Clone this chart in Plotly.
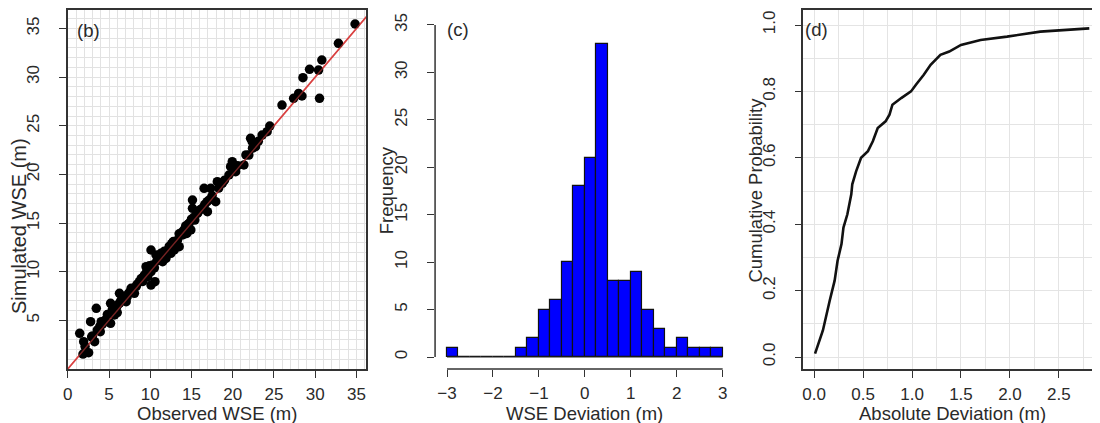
import plotly.graph_objects as go

# ---------------- Panel (b): observed vs simulated WSE ----------------
observed_wse = [1.45, 1.93, 1.85, 2.53, 2.77, 3.46, 3.26, 3.58, 4.06, 3.94,
                5.19, 5.19, 5.67, 6.07, 6.27, 6.47, 7.08, 7.36, 7.68, 8.28,
                8.08, 8.69, 9.29, 9.49, 9.69, 10.09, 10.09, 10.57, 10.09, 10.70,
                10.90, 11.30, 11.50, 11.90, 12.50, 12.71, 12.91, 13.31, 13.51, 13.71,
                14.11, 14.43, 14.72, 14.92, 15.12, 15.12, 15.40, 15.72, 16.32, 16.53,
                16.93, 17.13, 17.33, 17.93, 18.13, 18.74, 19.54, 19.74, 19.94, 20.35,
                21.35, 21.95, 22.16, 22.36, 22.76, 23.56, 24.17,
                24.49, 25.97, 27.38, 27.99, 28.39, 28.51, 29.31, 30.40, 30.80, 30.52,
                32.81, 34.83,
                2.10, 2.90, 3.90, 4.50, 4.80, 5.40, 5.90, 6.30, 6.80, 7.20,
                7.90, 8.40, 8.90, 9.10, 9.60, 10.30, 10.50, 11.00, 11.40, 11.70,
                12.10, 12.30, 12.80, 13.00, 13.50, 13.90, 14.30, 14.60, 15.00, 15.30,
                15.80, 16.10, 16.60, 17.50, 18.30, 19.00, 20.10, 20.60, 21.60, 22.40,
                23.10, 9.90, 10.80, 7.60, 6.00, 4.20, 3.00, 12.60, 14.00, 16.90]
simulated_wse = [3.67, 2.81, 1.54, 1.68, 4.86, 6.24, 2.81, 4.01, 4.86, 3.84,
                 4.69, 6.75, 5.55, 6.58, 7.78, 7.09, 6.92, 7.78, 8.29, 8.46,
                 7.78, 8.98, 9.66, 10.52, 9.49, 10.00, 8.63, 8.98, 12.23, 11.72,
                 11.20, 11.89, 11.03, 11.37, 11.89, 12.74, 12.23, 13.26, 12.57, 13.77,
                 14.29, 13.94, 14.97, 14.29, 17.37, 16.51, 15.31, 16.00, 16.51, 18.57,
                 16.17, 17.37, 18.57, 17.20, 19.25, 19.08, 19.94, 20.80, 21.31, 20.28,
                 20.97, 21.99, 23.71, 23.36, 22.85, 24.05, 24.39,
                 24.97, 27.13, 27.82, 28.33, 28.06, 29.94, 30.80, 30.73, 31.76, 27.82,
                 33.47, 35.46,
                 2.30, 3.30, 4.40, 5.00, 5.60, 6.10, 6.40, 6.80, 7.30, 7.40,
                 8.10, 8.70, 9.30, 9.00, 10.10, 10.70, 10.40, 11.40, 11.60, 12.10,
                 12.20, 12.60, 13.10, 12.90, 13.90, 14.10, 14.70, 14.90, 15.40, 15.60,
                 16.10, 16.40, 16.90, 17.80, 18.60, 19.40, 20.60, 20.90, 22.00, 22.70,
                 23.40, 10.60, 11.10, 7.90, 5.80, 4.60, 3.40, 12.90, 13.80, 17.20]
b_xticks = [0, 5, 10, 15, 20, 25, 30, 35]
b_yticks = [5, 10, 15, 20, 25, 30, 35]
one_to_one = [0, 36.2]

# ---------------- Panel (c): histogram of WSE deviation ----------------
bin_start = -3.0
bin_width = 0.25
dev_counts = [1, 0, 0, 0, 0, 0, 1, 2, 5, 6, 10, 18,
              21, 33, 8, 8, 9, 5, 3, 1, 2, 1, 1, 1]
c_xticks = [-3, -2, -1, 0, 1, 2, 3]
c_yticks = [0, 5, 10, 15, 20, 25, 30, 35]

# ---------------- Panel (d): CDF of absolute deviation ----------------
abs_dev = [0.01, 0.09, 0.16, 0.21, 0.24, 0.28, 0.30, 0.34, 0.38, 0.39, 0.43,
           0.48, 0.55, 0.60, 0.65, 0.73, 0.77, 0.80, 0.89, 0.99, 1.04, 1.12,
           1.19, 1.29, 1.38, 1.50, 1.70, 1.97, 2.31, 2.65, 2.81]
cum_prob = [0.01, 0.08, 0.17, 0.23, 0.29, 0.34, 0.39, 0.43, 0.49, 0.52, 0.56,
            0.60, 0.62, 0.65, 0.69, 0.71, 0.73, 0.76, 0.78, 0.80, 0.82, 0.85,
            0.88, 0.91, 0.92, 0.94, 0.955, 0.965, 0.98, 0.987, 0.99]
d_xticks = [0.0, 0.5, 1.0, 1.5, 2.0, 2.5]
d_yticks = [0.0, 0.2, 0.4, 0.6, 0.8, 1.0]

# ---------------- layout geometry (screen pixels -> paper) ----------------
W, H = 1100, 423
OFF = 8  # page body margin offsets the figure in the screenshot
FONT = "Liberation Sans, Arial, sans-serif"
TXT = "#2a2a2a"
AX = "#333333"

def px(X):
    return (X - OFF) / W

def py(Y):
    return 1 - (Y - OFF) / H

y_dom = [py(369), py(10)]
xb_dom = [px(63), px(363)]
xc_dom = [px(432), px(732)]
xd_dom = [px(802), px(1102)]

edges = [bin_start + i * bin_width for i in range(len(dev_counts) + 1)]
centers = [bin_start + (i + 0.5) * bin_width for i in range(len(dev_counts))]

fig = go.Figure()
fig.add_trace(go.Scatter(x=one_to_one, y=one_to_one, mode="lines",
                         line=dict(color="#d94040", width=1.6),
                         xaxis="x", yaxis="y", showlegend=False))
fig.add_trace(go.Scatter(x=observed_wse, y=simulated_wse, mode="markers",
                         marker=dict(color="black", size=9.5),
                         xaxis="x", yaxis="y", showlegend=False))
fig.add_trace(go.Scatter(x=one_to_one, y=one_to_one, mode="lines",
                         line=dict(color="rgba(217,64,64,0.55)", width=1.4),
                         xaxis="x", yaxis="y", showlegend=False))

fig.add_trace(go.Scatter(x=[edges[0], edges[-1]], y=[0, 0], mode="lines",
                         line=dict(color="#222", width=1.2),
                         xaxis="x2", yaxis="y2", showlegend=False))
fig.add_trace(go.Bar(x=centers, y=dev_counts, width=bin_width,
                     marker=dict(color="#0000ff", line=dict(color="#111", width=1.2)),
                     xaxis="x2", yaxis="y2", showlegend=False))

fig.add_trace(go.Scatter(x=abs_dev, y=cum_prob, mode="lines",
                         line=dict(color="#111", width=2.6),
                         xaxis="x3", yaxis="y3", showlegend=False))

tickfont = dict(family=FONT, size=17, color=TXT)
common = dict(ticks="outside", ticklen=7, tickwidth=1.2, tickcolor=AX,
              tickfont=tickfont, zeroline=False)
XSTAND = 2
YSTAND = 13

fig.update_layout(
    width=W, height=H, margin=dict(l=0, r=0, t=0, b=0),
    paper_bgcolor="white", plot_bgcolor="white", bargap=0,
    xaxis=dict(domain=xb_dom, anchor="y", range=[0, 36.2],
               tickmode="array", tickvals=b_xticks,
               showgrid=True, gridcolor="#e2e2e2", gridwidth=1,
               minor=dict(tickmode="linear", tick0=0, dtick=1, showgrid=True,
                          gridcolor="#e2e2e2", gridwidth=1, ticks=""),
               showline=True, mirror=True, linecolor=AX, linewidth=1.5,
               ticklabelstandoff=XSTAND, **common),
    yaxis=dict(domain=y_dom, anchor="x", range=[0, 36.9],
               tickmode="array", tickvals=b_yticks, tickangle=-90,
               showgrid=True, gridcolor="#e2e2e2", gridwidth=1,
               minor=dict(tickmode="linear", tick0=0, dtick=1, showgrid=True,
                          gridcolor="#e2e2e2", gridwidth=1, ticks=""),
               showline=True, mirror=True, linecolor=AX, linewidth=1.5,
               ticklabelstandoff=YSTAND, **common),
    xaxis2=dict(domain=xc_dom, anchor="y2", range=[-3.26, 3.24],
                tickmode="array", tickvals=c_xticks, showgrid=False,
                showline=False, ticklabelstandoff=XSTAND, **common),
    yaxis2=dict(domain=y_dom, anchor="x2", range=[-1.265, 36.58],
                tickmode="array", tickvals=c_yticks, tickangle=-90,
                showgrid=False, showline=False, ticklabelstandoff=YSTAND, **common),
    xaxis3=dict(domain=xd_dom, anchor="y3", range=[-0.109, 2.94],
                tickmode="array", tickvals=d_xticks, ticktext=[f"{v:.1f}" for v in d_xticks],
                showgrid=True, gridcolor="#e4e4e4",
                minor=dict(tickmode="linear", tick0=0, dtick=0.25, showgrid=True,
                           gridcolor="#e4e4e4", ticks=""),
                showline=True, mirror=True, linecolor=AX, linewidth=1.5,
                ticklabelstandoff=XSTAND, **common),
    yaxis3=dict(domain=y_dom, anchor="x3", range=[-0.0361, 1.0452],
                tickmode="array", tickvals=d_yticks, ticktext=[f"{v:.1f}" for v in d_yticks],
                tickangle=-90,
                showgrid=True, gridcolor="#e4e4e4",
                minor=dict(tickmode="linear", tick0=0, dtick=0.1, showgrid=True,
                           gridcolor="#e4e4e4", ticks=""),
                showline=True, mirror=True, linecolor=AX, linewidth=1.5,
                ticklabelstandoff=YSTAND, **common),
)

# R-style detached axis lines for panel (c), spanning the tick range
fig.add_shape(type="line", xref="x2", yref="paper",
              x0=min(c_xticks), x1=max(c_xticks), y0=y_dom[0], y1=y_dom[0],
              line=dict(color=AX, width=1.5))
fig.add_shape(type="line", xref="paper", yref="y2",
              x0=xc_dom[0], x1=xc_dom[0], y0=min(c_yticks), y1=max(c_yticks),
              line=dict(color=AX, width=1.5))

def ann(text, X, Y, angle=0, size=18.5):
    fig.add_annotation(text=text, x=px(X), y=py(Y), xref="paper", yref="paper",
                       showarrow=False, textangle=angle, xanchor="center", yanchor="middle",
                       font=dict(family=FONT, size=size, color=TXT))

ann("Observed WSE (m)", 213, 413)
ann("WSE Deviation (m)", 582, 413)
ann("Absolute Deviation (m)", 952, 413)
ann("Simulated WSE (m)", 14, 226, -90, 20)
ann("Frequency", 384, 190, -90)
ann("Cumulative Probability", 754, 190, -90)
ann("(b)", 84, 31)
ann("(c)", 455, 30)
ann("(d)", 815, 30)

fig.write_html("out.html")
